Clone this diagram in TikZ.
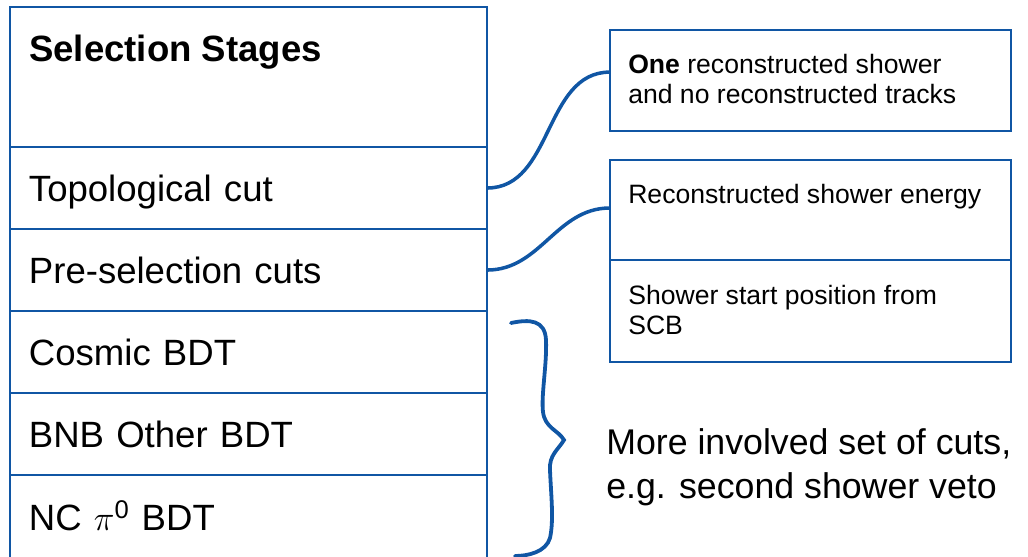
\documentclass[tikz,border=0pt]{standalone}
\usepackage{fontspec}
\usepackage{amsmath}
\setmainfont{Liberation Sans}
\usetikzlibrary{positioning}
\definecolor{slideblue}{HTML}{1056A4}

\begin{document}
\begin{tikzpicture}[x=0.025cm, y=-0.025cm,
    stage/.style={draw=slideblue, line width=1.3pt, fill=white, outer sep=0pt,
      minimum width=11.925cm, minimum height=2.05cm, inner xsep=0.475cm,
      text width=10.975cm, align=left, text height=0.656cm, text depth=0pt,
      font=\fontsize{26}{31}\selectfont},
    cutbox/.style={draw=slideblue, line width=1.3pt, outer sep=0pt,
      minimum width=10.025cm},
    cuttext/.style={inner sep=0pt, align=left, font=\fontsize{18.9}{21.6}\selectfont},
    notetext/.style={inner sep=0pt, align=left, font=\fontsize{25.4}{31.2}\selectfont},
    link/.style={draw=slideblue, line width=2.5pt}]

  % canvas is measured in pixels, y pointing down
  \useasboundingbox (0,0) rectangle (1028,557);
  \clip (0,0) rectangle (1028,557);

  %==================== stages table ====================
  \node[stage, minimum height=3.5cm] (head) at (248.5,77) {};
  \node[anchor=base west, inner sep=0pt, font=\fontsize{26}{31}\selectfont\bfseries]
    (headtitle) at (29,62) {Selection Stages};
  \node[stage, below=0pt of head]   (topo)   {Topological cut};
  \node[stage, below=0pt of topo]   (presel) {Pre-selection cuts};
  \node[stage, below=0pt of presel] (cosmic) {Cosmic BDT};
  \node[stage, below=0pt of cosmic] (bnb)    {BNB Other BDT};
  % last row runs past the lower edge
  \node[stage, below=0pt of bnb, minimum height=2.125cm] (ncpi) {NC $\pi^{\text{0}}$ BDT};

  %==================== cut boxes ====================
  \node[cutbox, minimum height=2.525cm] (b1) at (810.5,80.5) {};
  \node[cutbox, minimum height=2.5cm]   (b2) at (810.5,210) {};
  \node[cutbox, minimum height=2.55cm, below=0pt of b2] (b3) {};

  \node[cuttext, anchor=north west] (b1txt) at (628,53.6)
    {\textbf{One} reconstructed shower\\and no reconstructed tracks};
  \node[cuttext, anchor=base west] (b2txt) at (628,204) {Reconstructed shower energy};
  \node[cuttext, anchor=north west] (b3txt) at (628,284.6)
    {Shower start position from\\SCB};

  % links from the stages to their cuts
  \draw[link] (topo.east) to[out=0, in=180] ([yshift=0.21cm]b1.west);
  \draw[link] (presel.east) to[out=0, in=180] ([yshift=0.05cm]b2.west);

  %==================== BDT brace ====================
  \draw[link, line width=2.7pt, line cap=round]
    (511,323) .. controls (530,319) and (545,320) .. (546,340)
    .. controls (547,365) and (541,395) .. (543,412)
    .. controls (545,428) and (558,430) .. (564,440)
    .. controls (558,450) and (549,455) .. (550,470)
    .. controls (551,495) and (554,520) .. (550,538)
    .. controls (546,552) and (528,556) .. (515,556);

  \node[notetext, anchor=north west] (note) at (606,428)
    {More involved set of cuts,\\e.g. second shower veto};

\end{tikzpicture}
\end{document}
